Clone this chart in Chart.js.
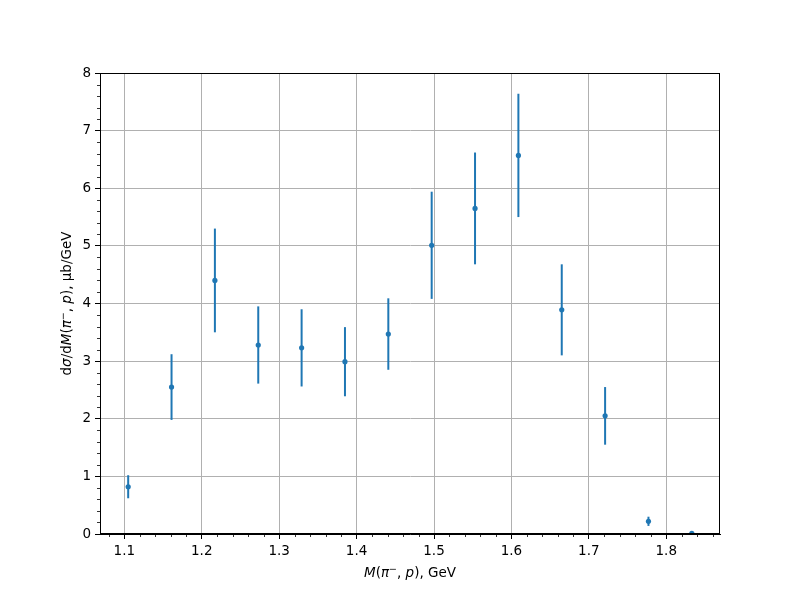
<!DOCTYPE html>
<html>
<head>
<meta charset="utf-8">
<script src="https://cdn.jsdelivr.net/npm/chart.js@4.4.0/dist/chart.umd.min.js"></script>
<style>
  html, body { margin: 0; padding: 0; background: #fff; }
</style>
</head>
<body>
<canvas id="chart" width="800" height="600"></canvas>
<script>
// invariant mass bins (GeV) and cross section (ub/GeV)
const massBins = [1.105, 1.161, 1.217, 1.273, 1.329, 1.385, 1.441, 1.497, 1.553, 1.609, 1.665, 1.721, 1.777, 1.833];
const dsigma = [0.82, 2.55, 4.40, 3.28, 3.23, 2.99, 3.47, 5.01, 5.65, 6.57, 3.89, 2.05, 0.22, 0.01];
const dsigmaErr = [0.20, 0.57, 0.90, 0.67, 0.67, 0.60, 0.62, 0.93, 0.97, 1.07, 0.79, 0.50, 0.08, 0.01];

const xTicks = [1.1, 1.2, 1.3, 1.4, 1.5, 1.6, 1.7, 1.8];
const yTicks = [0, 1, 2, 3, 4, 5, 6, 7, 8];

const blue = '#1f77b4';
const fontFam = '"DejaVu Sans", sans-serif';
const fontSize = 13.5;

// draw a label made of normal / italic / superscript pieces
function richText(ctx, parts, cx, cy, rot) {
  ctx.save();
  ctx.translate(cx, cy);
  ctx.rotate(rot);
  ctx.fillStyle = '#000';
  ctx.textBaseline = 'alphabetic';
  let total = 0;
  const widths = parts.map(p => {
    ctx.font = (p.it ? 'italic ' : '') + (p.sup ? fontSize * 0.7 : fontSize) + 'px ' + fontFam;
    const w = ctx.measureText(p.t).width;
    total += w;
    return w;
  });
  let x = -total / 2;
  parts.forEach((p, i) => {
    ctx.font = (p.it ? 'italic ' : '') + (p.sup ? fontSize * 0.7 : fontSize) + 'px ' + fontFam;
    ctx.fillText(p.t, x, p.sup ? -5 : 0);
    x += widths[i];
  });
  ctx.restore();
}

const errorBars = {
  id: 'errorBars',
  beforeDatasetsDraw(chart) {
    const { ctx, chartArea, scales } = chart;
    ctx.save();
    ctx.beginPath();
    ctx.rect(chartArea.left, chartArea.top, chartArea.right - chartArea.left, chartArea.bottom - chartArea.top);
    ctx.clip();
    ctx.strokeStyle = blue;
    ctx.lineWidth = 2;
    massBins.forEach((m, i) => {
      const px = scales.x.getPixelForValue(m);
      ctx.beginPath();
      ctx.moveTo(px, scales.y.getPixelForValue(dsigma[i] - dsigmaErr[i]));
      ctx.lineTo(px, scales.y.getPixelForValue(dsigma[i] + dsigmaErr[i]));
      ctx.stroke();
    });
    ctx.restore();
  }
};

const frameAndLabels = {
  id: 'frameAndLabels',
  afterDraw(chart) {
    const { ctx, chartArea, scales } = chart;
    const a = chartArea;
    ctx.save();
    ctx.strokeStyle = '#000';
    ctx.lineWidth = 1;
    ctx.strokeRect(Math.round(a.left) + 0.5, Math.round(a.top) + 0.5,
      Math.round(a.right - a.left) - 1, Math.round(a.bottom - a.top) - 1);

    // minor ticks
    ctx.lineWidth = 0.8;
    ctx.beginPath();
    for (let k = 54; k <= 93; k++) {
      if (k % 5 === 0) continue;
      const v = k * 0.02;
      if (v < scales.x.min || v > scales.x.max) continue;
      const px = Math.round(scales.x.getPixelForValue(v)) + 0.5;
      ctx.moveTo(px, a.bottom);
      ctx.lineTo(px, a.bottom + 3);
    }
    for (let k = 0; k <= 40; k++) {
      if (k % 5 === 0) continue;
      const py = Math.round(scales.y.getPixelForValue(k * 0.2)) + 0.5;
      ctx.moveTo(a.left, py);
      ctx.lineTo(a.left - 3, py);
    }
    ctx.stroke();
    ctx.restore();

    richText(ctx, [
      { t: 'M', it: true }, { t: '(' }, { t: 'π', it: true }, { t: '−', sup: true },
      { t: ', ' }, { t: 'p', it: true }, { t: '), GeV' }
    ], (a.left + a.right) / 2, 577, 0);

    richText(ctx, [
      { t: 'd' }, { t: 'σ', it: true }, { t: '/d' }, { t: 'M', it: true }, { t: '(' },
      { t: 'π', it: true }, { t: '−', sup: true }, { t: ', ' }, { t: 'p', it: true },
      { t: '), μb/GeV' }
    ], 71, (a.top + a.bottom) / 2, -Math.PI / 2);
  }
};

const tickFont = { family: fontFam, size: fontSize };

new Chart(document.getElementById('chart'), {
  type: 'scatter',
  data: {
    datasets: [{
      data: massBins.map((m, i) => ({ x: m, y: dsigma[i] })),
      backgroundColor: blue,
      borderWidth: 0,
      pointRadius: 2.6,
      showLine: false
    }]
  },
  options: {
    responsive: false,
    animation: false,
    layout: { padding: { top: 73, right: 80, left: 0, bottom: 0 } },
    plugins: { legend: { display: false }, tooltip: { enabled: false } },
    scales: {
      x: {
        type: 'linear',
        position: 'bottom',
        min: 1.0686,
        max: 1.8694,
        afterBuildTicks: s => { s.ticks = xTicks.map(v => ({ value: v })); },
        afterFit: s => { s.height = 66; },
        ticks: { font: tickFont, color: '#000', padding: 4, maxRotation: 0, callback: v => v.toFixed(1) },
        grid: { color: '#b0b0b0', lineWidth: 1, tickColor: '#000', tickLength: 5, tickWidth: 1 },
        border: { color: '#000', width: 1 }
      },
      y: {
        min: 0,
        max: 8,
        afterBuildTicks: s => { s.ticks = yTicks.map(v => ({ value: v })); },
        afterFit: s => { s.width = 100; },
        ticks: { font: tickFont, color: '#000', padding: 4, callback: v => String(v) },
        grid: { color: '#b0b0b0', lineWidth: 1, tickColor: '#000', tickLength: 5, tickWidth: 1 },
        border: { color: '#000', width: 1 }
      }
    }
  },
  plugins: [errorBars, frameAndLabels]
});
</script>
</body>
</html>
